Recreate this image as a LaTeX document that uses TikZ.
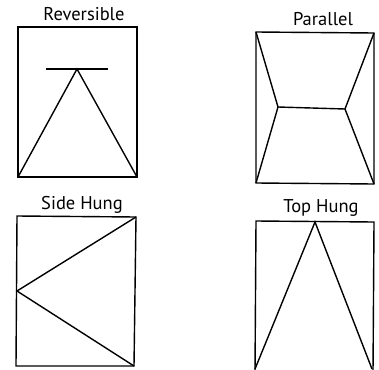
\documentclass[tikz,border=0pt]{standalone}
\usepackage{fontspec}
\setsansfont{PT Sans}
\usetikzlibrary{positioning}
\tikzset{frame/.style={line width=1.4pt, line join=miter},
  caption/.style={font=\sffamily\fontsize{18.5}{20}\selectfont, inner sep=0pt}}

\begin{document}
\begin{tikzpicture}[x=1pt,y=-1pt]
  \useasboundingbox (0,0) rectangle (379,369);
  \clip (0,0) rectangle (379,369);
  % Reversible
  \node[caption] (rev) at (84,14) {Reversible};
  \coordinate (rtl) at (18,27); \coordinate (rbr) at (137,177);
  \draw[frame] (rtl) rectangle (rbr);
  \coordinate (rbarl) at (46,69); \coordinate (rbarr) at (108,69);
  \coordinate (rtop) at (77,69);
  \draw[frame] (rbarl) -- (rbarr);
  \draw[frame] (18,177) -- (rtop) -- (137,177);
  % Parallel
  \node[caption] (par) at (323,19) {Parallel};
  \coordinate (ptl) at (256,32); \coordinate (ptr) at (374,33);
  \coordinate (pbl) at (256,183); \coordinate (pbr) at (374,184);
  \coordinate (pl) at (278,107); \coordinate (pr) at (345,109);
  \draw[frame] (ptl) -- (ptr) -- (pbr) -- (pbl) -- cycle;
  \draw[frame] (ptl) -- (pl) -- (pbl);
  \draw[frame] (ptr) -- (pr) -- (pbr);
  \draw[frame] (pl) -- (pr);
  % Side Hung
  \node[caption] (side) at (82,205) {Side Hung};
  \coordinate (stl) at (17,216); \coordinate (str) at (136,217);
  \coordinate (sbl) at (16,366); \coordinate (sbr) at (134,366);
  \coordinate (shinge) at (17,291);
  \draw[frame] (stl) -- (str) -- (sbr) -- (sbl) -- cycle;
  \draw[frame] (str) -- (shinge) -- (sbr);
  % Top Hung
  \node[caption] (tophung) at (321,208) {Top Hung};
  \coordinate (ttl) at (256,221); \coordinate (ttr) at (374,222);
  \coordinate (tbl) at (255,372); \coordinate (tbr) at (373,372);
  \coordinate (thinge) at (315,222);
  \draw[frame] (tbl) -- (ttl) -- (ttr) -- (tbr);
  \draw[frame] (255,369) -- (thinge) -- (372,369);
\end{tikzpicture}
\end{document}
